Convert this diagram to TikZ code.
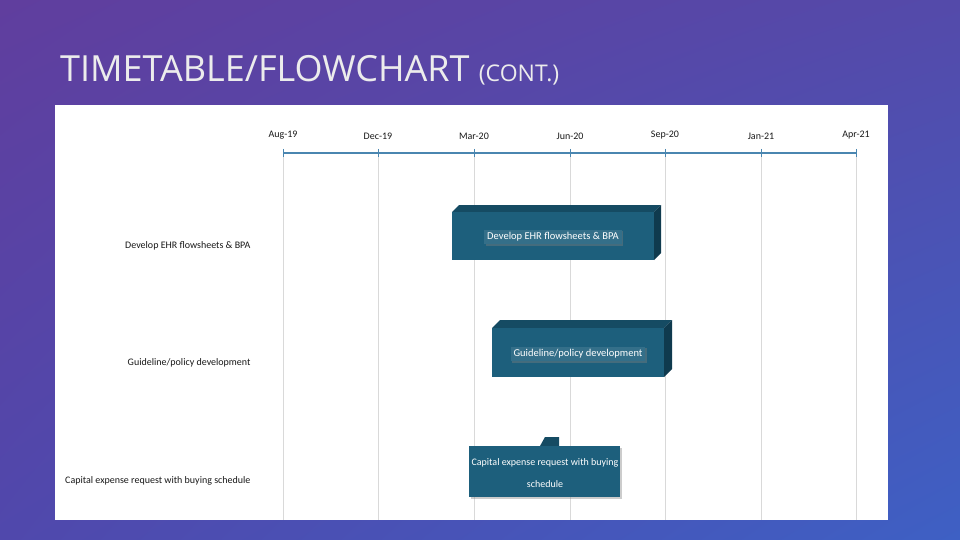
\documentclass[tikz,border=0pt]{standalone}
\usepackage{fontspec}
\setmainfont{Carlito}
\newfontfamily\titlefont{Open Sans}
\usetikzlibrary{positioning,shadows,shadings}
\definecolor{barblue}{HTML}{1D5F7C}
\definecolor{bartop}{HTML}{154B63}
\definecolor{barside}{HTML}{0F3A4E}
\definecolor{gridgray}{HTML}{D9D9D9}
\definecolor{axisblue}{HTML}{4A86B0}
\definecolor{bgul}{HTML}{603E9E}
\definecolor{bgur}{HTML}{544AAA}
\definecolor{bgll}{HTML}{5048AC}
\definecolor{bglr}{HTML}{3E60C4}
\tikzset{
  month/.style={font=\fontsize{10}{12}\selectfont\color{black!90}, anchor=south},
  rowlabel/.style={font=\fontsize{10}{12}\selectfont\color{black!90}, anchor=east},
  barlabel/.style={font=\fontsize{10.5}{12}\selectfont\color{white}, fill=barblue!90!white,
    drop shadow={opacity=0.4,shadow xshift=1.5pt,shadow yshift=-1.5pt}, inner sep=3pt, align=center}
}
\newcommand{\ganttbar}[5]{% x1,y1,x2,y2,depth
  \fill[bartop] (#1,#2) -- ++(#5,-#5) -- (#3+#5,#2-#5) -- (#3,#2) -- cycle;
  \fill[barside] (#3,#2) -- ++(#5,-#5) -- (#3+#5,#4-#5) -- (#3,#4) -- cycle;
  \fill[barblue] (#1,#2) rectangle (#3,#4);
}
\begin{document}
\begin{tikzpicture}[x=1pt,y=-1pt]
\useasboundingbox (0,0) rectangle (960,540);
\shade[upper left=bgul, upper right=bgur, lower left=bgll, lower right=bglr]
  (0,0) rectangle (960,540);
\node[font=\titlefont\fontsize{36}{40}\selectfont, text=white!85!gray, anchor=west, inner sep=0pt] (title) at (60,70)
  {TIMETABLE/FLOWCHART {\fontsize{23}{26}\selectfont(CONT.)}};
% chart panel
\fill[white] (55,105) rectangle (888,520);
% grid and axis
\foreach \x/\m in {283/Aug-19,378/Dec-19,474/Mar-20,570/Jun-20,665/Sep-20,761/Jan-21,856/Apr-21}{
  \draw[gridgray, line width=0.8pt] (\x,155) -- (\x,520);
  \draw[axisblue, line width=1pt] (\x,149) -- (\x,157);
  \node[month] (m-\m) at (\x,143) {\m};
}
\draw[axisblue, line width=1.6pt] (283,153) -- (856,153);
% row labels
\node[rowlabel] (r1) at (254,246) {Develop EHR flowsheets \& BPA};
\node[rowlabel] (r2) at (254,363) {Guideline/policy development};
\node[rowlabel] (r3) at (254,481) {Capital expense request with buying schedule};
% bars
\ganttbar{452}{212}{654}{260}{7}
\node[barlabel] (b1) at (553,237) {Develop EHR flowsheets \& BPA};
\ganttbar{492}{328}{664}{377}{8}
\node[barlabel] (b2) at (578,354) {Guideline/policy development};
\fill[bartop] (540,446) -- (545,437) -- (559,437) -- (559,446) -- cycle;
\fill[barblue, drop shadow={opacity=0.4,shadow xshift=2pt,shadow yshift=-2pt}] (469,446) rectangle (620,497);
\node[font=\fontsize{10}{22}\selectfont\color{white}, align=center] (b3) at (545,473)
  {Capital expense request with buying\\schedule};
\end{tikzpicture}
\end{document}
